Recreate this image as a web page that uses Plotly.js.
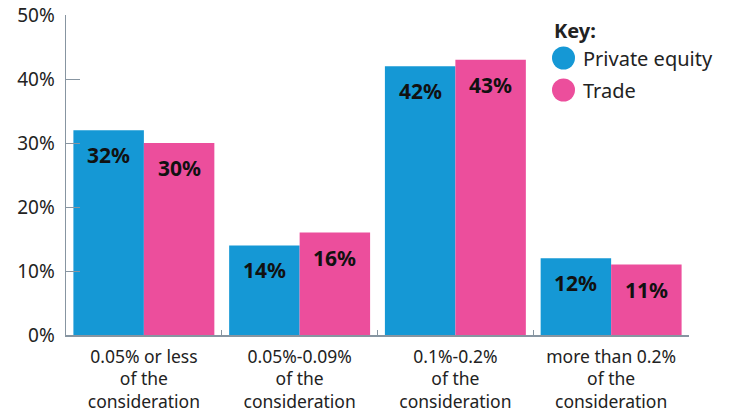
<!DOCTYPE html>
<html><head><meta charset="utf-8">
<script src="https://cdn.plot.ly/plotly-3.0.1.min.js"></script>
<style>html,body{margin:0;padding:0;background:#fff}#c{width:730px;height:414px}</style>
</head><body><div id="c"></div>
<script>
const categories = ["0.05% or less<br>of the<br>consideration","0.05%-0.09%<br>of the<br>consideration","0.1%-0.2%<br>of the<br>consideration","more than 0.2%<br>of the<br>consideration"];
const privateEquity = [32, 14, 42, 12];
const trade = [30, 16, 43, 11];
const seriesNames = ["Private equity", "Trade"];
const colors = ["#1598d5", "#ec4e9c"];
const yTicks = [0, 10, 20, 30, 40, 50];

const FONT = "Noto Sans, Open Sans, sans-serif";
const W = 730, H = 414, M = {l: 66, r: 41, t: 15, b: 79};
const plotW = W - M.l - M.r, plotH = H - M.t - M.b;
const BARGAP = 0.095;
const half = plotW / categories.length * (1 - BARGAP) / 4;

const traces = [privateEquity, trade].map((vals, i) => ({
  type: "bar", x: categories, y: vals, name: seriesNames[i],
  marker: {color: colors[i], line: {width: 0}}, showlegend: false, hoverinfo: "none"
}));

const annotations = [];
[privateEquity, trade].forEach((vals, i) => {
  vals.forEach((v, j) => {
    annotations.push({x: categories[j], y: v, xref: "x", yref: "y", text: "<b>" + v + "%</b>",
      showarrow: false, yshift: -25, xshift: i === 0 ? -half : half,
      font: {family: FONT, size: 21, color: "#111"}});
  });
});
const px = x => (x - M.l) / plotW, py = y => (H - M.b - y) / plotH;
annotations.push({xref: "paper", yref: "paper", x: px(552), y: py(30), xanchor: "left", yanchor: "middle",
  text: "<b>Key:</b>", showarrow: false, font: {family: FONT, size: 20, color: "#222"}});
const shapes = [];
seriesNames.forEach((n, i) => {
  const yc = i === 0 ? 58 : 90;
  shapes.push({type: "circle", xref: "paper", yref: "paper", xsizemode: "pixel", ysizemode: "pixel",
    xanchor: px(563.5), yanchor: py(yc), x0: -11.5, x1: 11.5, y0: -11.5, y1: 11.5,
    fillcolor: colors[i], line: {width: 0}});
  annotations.push({xref: "paper", yref: "paper", x: px(581), y: py(yc), xanchor: "left", yanchor: "middle",
    text: n, showarrow: false, font: {family: FONT, size: 20, color: "#222"}});
});

const layout = {
  width: W, height: H, margin: M,
  paper_bgcolor: "#fff", plot_bgcolor: "#fff",
  barmode: "group", bargap: BARGAP, bargroupgap: 0,
  font: {family: FONT, color: "#222"},
  xaxis: {showline: true, linecolor: "#8795a1", linewidth: 1.5, ticks: "inside", tickson: "boundaries",
    ticklen: 5, tickcolor: "#8795a1", tickangle: 0, automargin: false, ticklabelstandoff: 5,
    tickfont: {family: FONT, size: 17.5, color: "#222"}, showgrid: false, fixedrange: true},
  yaxis: {range: [0, 50], tickvals: yTicks, ticktext: yTicks.map(v => v + "%"), showline: true,
    linecolor: "#8795a1", linewidth: 1.5, ticks: "inside", ticklen: 14, tickcolor: "#8795a1",
    showgrid: false, zeroline: false, ticklabelstandoff: 6,
    tickfont: {family: FONT, size: 19, color: "#222"}},
  annotations, shapes, showlegend: false
};
Plotly.newPlot("c", traces, layout, {displayModeBar: false, staticPlot: true});
</script></body></html>
